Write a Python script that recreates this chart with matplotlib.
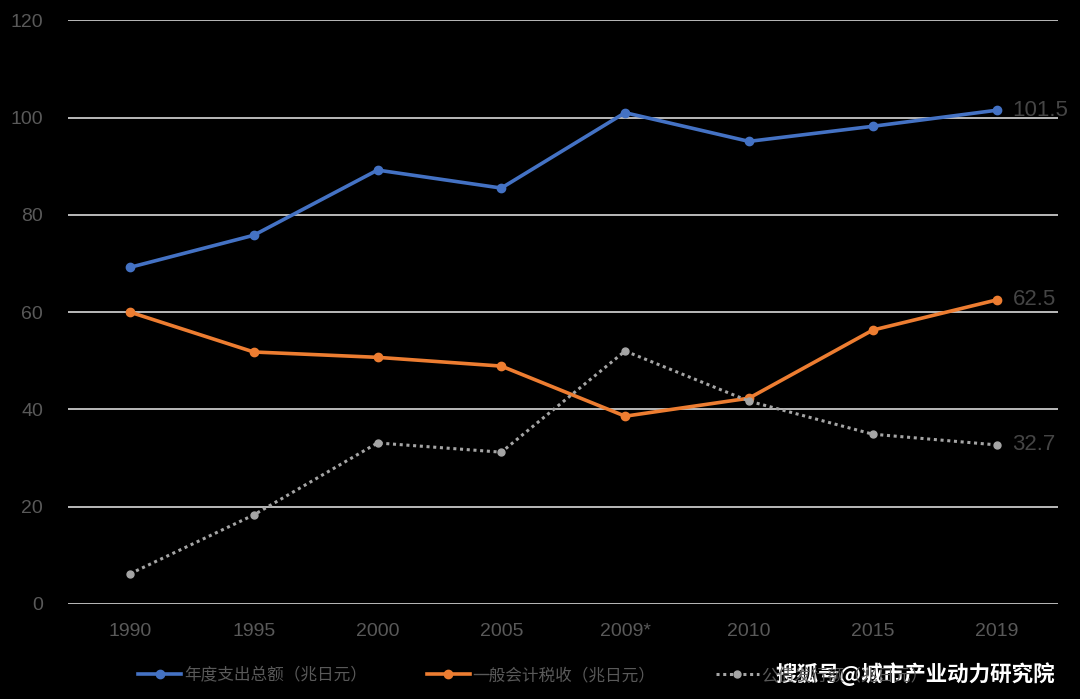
import matplotlib
matplotlib.use("Agg")
import matplotlib.pyplot as plt
import numpy as np

plt.rcParams['font.family'] = ['Noto Sans CJK SC', 'DejaVu Sans']

years = ["1990", "1995", "2000", "2005", "2009*", "2010", "2015", "2019"]
spending = [69.2, 75.8, 89.2, 85.5, 101.0, 95.1, 98.2, 101.5]
tax = [60.0, 51.8, 50.7, 48.9, 38.6, 42.3, 56.3, 62.5]
bonds = [6.2, 18.3, 33.1, 31.2, 52.0, 41.7, 34.9, 32.7]
names = ["年度支出总额（兆日元）", "一般会计税收（兆日元）", "公债发行额（兆日元）"]
yticks = [0, 20, 40, 60, 80, 100, 120]

blue = "#4472c4"
orange = "#ed7d31"
grey = "#a5a5a5"
txt = "#595959"

fig = plt.figure(figsize=(10.8, 6.99), dpi=100, facecolor="black")
ax = fig.add_axes([0.063, 0.136, 0.917, 0.835], facecolor="black")

x = np.arange(len(years))
ax.plot(x, spending, color=blue, lw=2.6, marker="o", ms=6, label=names[0], zorder=3)
ax.plot(x, tax, color=orange, lw=2.6, marker="o", ms=6, label=names[1], zorder=3)
ax.plot(x, bonds, color=grey, lw=2.2, ls=(0, (1, 1.2)), marker="o", ms=5,
        label=names[2], zorder=3)

for vals in (spending, tax, bonds):
    ax.text(x[-1] + 0.13, vals[-1], f"{vals[-1]}", color="#454545", fontsize=16,
            va="center", ha="left", family="Liberation Sans")

ax.set_xlim(-0.5, len(years) - 0.5)
ax.set_ylim(0, 120)
ax.set_yticks(yticks)
ax.set_xticks(x)
ax.set_xticklabels(years)
ax.grid(axis="y", color="#d9d9d9", lw=1.2)
ax.set_axisbelow(True)
for s in ax.spines.values():
    s.set_visible(False)
ax.tick_params(length=0, colors=txt, labelsize=14, pad=14)
ax.tick_params(axis="y", pad=18)
for t in ax.get_xticklabels() + ax.get_yticklabels():
    t.set_family("Liberation Sans")

leg = fig.legend(loc="lower left", bbox_to_anchor=(0.114, 0.0), ncol=3, frameon=False,
                 fontsize=12, labelcolor=txt, handlelength=2.6, columnspacing=3.6,
                 handletextpad=0.15)

fig.text(0.977, 0.035, "搜狐号@城市产业动力研究院", color="white", fontsize=15.5,
         ha="right", va="center", fontweight="bold")

fig.savefig("out.png", dpi=100, facecolor="black")
